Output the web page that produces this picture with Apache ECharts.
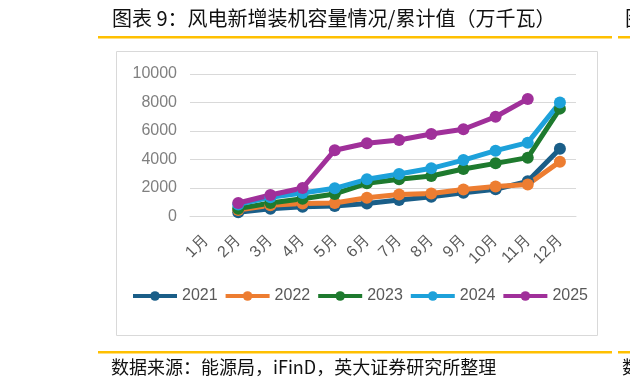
<!DOCTYPE html>
<html><head><meta charset="utf-8">
<script src="https://cdn.jsdelivr.net/npm/echarts@6/dist/echarts.min.js"></script>
<style>html,body{margin:0;padding:0;background:#fff}#c{width:630px;height:388px}</style>
</head><body><div id="c"></div>
<script>
const months = ['1月','2月','3月','4月','5月','6月','7月','8月','9月','10月','11月','12月'];
const yearNames = ['2021','2022','2023','2024','2025'];
const s2021 = [null, 300, 550, 680, 730, 920, 1160, 1390, 1670, 1910, 2470, 4750];
const s2022 = [null, 450, 790, 920, 950, 1320, 1550, 1620, 1900, 2100, 2250, 3850];
const s2023 = [null, 550, 950, 1250, 1580, 2330, 2610, 2840, 3330, 3730, 4130, 7570];
const s2024 = [null, 850, 1350, 1650, 1980, 2610, 2980, 3380, 3960, 4620, 5180, 8000];
const s2025 = [null, 950, 1510, 2000, 4650, 5140, 5370, 5790, 6120, 7000, 8250, null];
const yTicks = [0, 2000, 4000, 6000, 8000, 10000];
const titleText = '图表 9：风电新增装机容量情况/累计值（万千瓦）';
const sourceText = '数据来源：能源局，iFinD，英大证券研究所整理';

const colors = ['#1A5E88', '#ED7D31', '#1E7A2E', '#1DA1DA', '#A0309A'];
const seriesData = [s2021, s2022, s2023, s2024, s2025];

const chart = echarts.init(document.getElementById('c'));
chart.setOption({
  animation: false,
  color: colors,
  grid: { left: 190, right: 54, top: 74, bottom: 171.5, containLabel: false },
  legend: {
    left: 126, top: 283,
    itemWidth: 44, itemHeight: 12, itemGap: 6,
    lineStyle: { width: 4 },
    textStyle: { fontSize: 16, color: '#595959', fontFamily: 'Liberation Sans' },
    data: yearNames
  },
  xAxis: {
    type: 'category', data: months, boundaryGap: true,
    axisLine: { show: true, lineStyle: { color: '#d9d9d9', width: 1 } },
    axisTick: { show: false },
    axisLabel: { rotate: 45, margin: 21, fontSize: 16, color: '#595959', fontFamily: 'Liberation Sans', interval: 0 }
  },
  yAxis: {
    type: 'value', min: yTicks[0], max: yTicks[yTicks.length-1], interval: 2000,
    axisLine: { show: false }, axisTick: { show: false },
    splitLine: { lineStyle: { color: '#d9d9d9', width: 1 } },
    axisLabel: { margin: 13, fontSize: 16, color: '#808080', fontFamily: 'Liberation Sans', formatter: v => String(v) }
  },
  series: yearNames.map((n, i) => ({
    name: n, type: 'line', data: seriesData[i],
    symbol: 'circle', symbolSize: 12, showSymbol: true,
    lineStyle: { width: 5, color: colors[i] },
    itemStyle: { color: colors[i] },
    connectNulls: false
  })),
  graphic: [
    { type: 'text', left: 112, top: 8, style: { text: titleText, fontSize: 20, fontFamily: 'Noto Sans CJK SC', fill: '#111' } },
    { type: 'text', left: 625, top: 8, style: { text: '图', fontSize: 20, fontFamily: 'Noto Sans CJK SC', fill: '#111' } },
    { type: 'rect', shape: { x: 98, y: 36, width: 514, height: 2.5 }, style: { fill: '#FFC000' } },
    { type: 'rect', shape: { x: 618, y: 36, width: 20, height: 2.5 }, style: { fill: '#FFC000' } },
    { type: 'rect', shape: { x: 116.5, y: 51.5, width: 481, height: 284 }, style: { fill: 'none', stroke: '#d9d9d9', lineWidth: 1 }, z: -1 },
    { type: 'rect', shape: { x: 98, y: 351, width: 514, height: 2.5 }, style: { fill: '#FFC000' } },
    { type: 'rect', shape: { x: 618, y: 351, width: 20, height: 2.5 }, style: { fill: '#FFC000' } },
    { type: 'text', left: 111, top: 358, style: { text: sourceText, fontSize: 18, fontFamily: 'Noto Sans CJK SC', fill: '#111' } },
    { type: 'text', left: 622, top: 358, style: { text: '数', fontSize: 18, fontFamily: 'Noto Sans CJK SC', fill: '#111' } }
  ]
});
</script></body></html>
